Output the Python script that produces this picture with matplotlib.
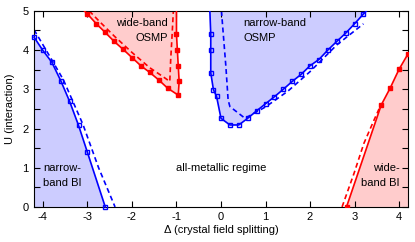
import matplotlib
matplotlib.use("Agg")
import matplotlib.pyplot as plt
from matplotlib.ticker import MultipleLocator

plt.rcParams['font.family'] = ['Liberation Sans', 'DejaVu Sans']
plt.rcParams['axes.unicode_minus'] = False
plt.rcParams['font.size'] = 8

# narrow-band band insulator boundary (blue, left)
nbi_x = [-4.2, -4.0, -3.8, -3.6, -3.4, -3.2, -3.0, -2.6]
nbi_u = [4.33, 3.99, 3.69, 3.22, 2.69, 2.08, 1.39, 0.0]
nbi_dx = [-4.2, -3.8, -3.54, -3.1, -2.75, -2.38]
nbi_du = [4.52, 3.75, 3.24, 2.1, 1.0, 0.0]

# narrow-band OSMP boundary (blue, middle)
nosmp_x = [-0.25, -0.23, -0.23, -0.23, -0.17, -0.1, 0.0, 0.2, 0.4, 0.6, 0.8, 1.0, 1.2,
           1.4, 1.6, 1.8, 2.0, 2.2, 2.4, 2.6, 2.8, 3.0, 3.2, 3.27]
nosmp_u = [5.0, 4.41, 4.0, 3.42, 2.99, 2.82, 2.26, 2.09, 2.09, 2.26, 2.45, 2.63, 2.81,
           3.0, 3.2, 3.38, 3.6, 3.76, 4.0, 4.22, 4.43, 4.67, 4.92, 5.0]
nosmp_dx = [0.01, 0.05, 0.11, 0.16, 0.2, 0.54, 1.0, 1.5, 2.0, 2.6, 3.2]
nosmp_du = [5.0, 4.43, 3.58, 2.73, 2.56, 2.26, 2.55, 2.95, 3.45, 4.13, 4.67]

# wide-band OSMP boundary (red, upper left)
wosmp_x = [-3.07, -3.0, -2.8, -2.6, -2.4, -2.2, -2.0, -1.8, -1.6, -1.4, -1.2, -0.96,
           -0.94, -0.96, -0.98, -1.0, -1.0]
wosmp_u = [5.0, 4.92, 4.67, 4.45, 4.22, 4.02, 3.81, 3.6, 3.43, 3.24, 3.03, 2.85,
           3.2, 3.6, 4.0, 4.41, 5.0]
wosmp_dx = [-2.96, -2.73, -2.4, -2.0, -1.6, -1.3, -1.15, -1.13, -1.1, -1.07]
wosmp_du = [5.0, 4.73, 4.36, 3.94, 3.55, 3.32, 3.2, 3.75, 4.35, 5.0]

# wide-band band insulator boundary (red, right)
wbi_x = [2.82, 3.6, 3.8, 4.0, 4.2]
wbi_u = [0.0, 2.6, 3.03, 3.51, 3.9]
wbi_dx = [2.72, 2.99, 3.21, 3.44, 3.59]
wbi_du = [0.0, 0.86, 1.62, 2.22, 2.6]

XMIN, XMAX, UMIN, UMAX = -4.2, 4.2, 0.0, 5.0
BLUE, RED = '#0000ff', '#ff0000'
BFILL, RFILL = '#ccccff', '#ffcccc'

fig = plt.figure(figsize=(4.15, 2.42), dpi=100)
ax = fig.add_axes([0.082, 0.145, 0.901, 0.81])

# fills
ax.fill([XMIN] + nbi_x + [XMIN], [UMIN] + nbi_u + [UMIN], color=BFILL, lw=0, zorder=0)
ax.fill(nosmp_x, nosmp_u, color=BFILL, lw=0, zorder=0)
ax.fill(wosmp_x, wosmp_u, color=RFILL, lw=0, zorder=0)
ax.fill(wbi_x + [XMAX], wbi_u + [UMIN], color=RFILL, lw=0, zorder=0)

ms = 3.3
lw = 1.2
# blue solid with open squares
ax.plot(nbi_x, nbi_u, '-', color=BLUE, lw=lw, marker='s', ms=ms, mfc='none', mew=1.0, clip_on=False, zorder=3)
ax.plot(nbi_dx, nbi_du, '--', color=BLUE, lw=lw, dashes=(3, 2), zorder=2)
ax.plot(nosmp_x, nosmp_u, '-', color=BLUE, lw=lw, zorder=3)
ax.plot(nosmp_x[1:-1], nosmp_u[1:-1], 's', color=BLUE, ms=ms, mfc='none', mew=1.0, zorder=3)
ax.plot(nosmp_dx, nosmp_du, '--', color=BLUE, lw=lw, dashes=(3, 2), zorder=2)
# red solid with filled squares
ax.plot(wosmp_x, wosmp_u, '-', color=RED, lw=lw, zorder=3)
ax.plot(wosmp_x[1:-1], wosmp_u[1:-1], 's', color=RED, ms=ms, zorder=3)
ax.plot(wosmp_dx, wosmp_du, '--', color=RED, lw=lw, dashes=(3, 2), zorder=2)
ax.plot(wbi_x, wbi_u, '-', color=RED, lw=lw, marker='s', ms=ms, zorder=3)
ax.plot(wbi_dx, wbi_du, '--', color=RED, lw=lw, dashes=(3, 2), zorder=2)

ax.set_xlim(XMIN, XMAX)
ax.set_ylim(UMIN, UMAX)
ax.xaxis.set_major_locator(MultipleLocator(1))
ax.yaxis.set_major_locator(MultipleLocator(1))
ax.yaxis.set_minor_locator(MultipleLocator(0.5))
ax.tick_params(which='both', direction='in', top=True, right=True, length=4, width=0.8, labelsize=8, pad=4)
for s in ax.spines.values():
    s.set_linewidth(0.8)

ax.set_xlabel('Δ (crystal field splitting)', fontsize=8, labelpad=2)
ax.set_ylabel('U (interaction)', fontsize=8, labelpad=5)

ls = 1.55
ax.text(-1.2, 4.5, 'wide-band\nOSMP', ha='right', va='center', multialignment='right', fontsize=8, linespacing=ls)
ax.text(0.5, 4.5, 'narrow-band\nOSMP', ha='left', va='center', multialignment='left', fontsize=8, linespacing=ls)
ax.text(-4.0, 0.8, 'narrow-\nband BI', ha='left', va='center', multialignment='left', fontsize=8, linespacing=ls)
ax.text(4.02, 0.8, 'wide-\nband BI', ha='right', va='center', multialignment='right', fontsize=8, linespacing=ls)
ax.text(0.0, 1.0, 'all-metallic regime', ha='center', va='center', fontsize=8)

fig.savefig('out.png', dpi=100)
